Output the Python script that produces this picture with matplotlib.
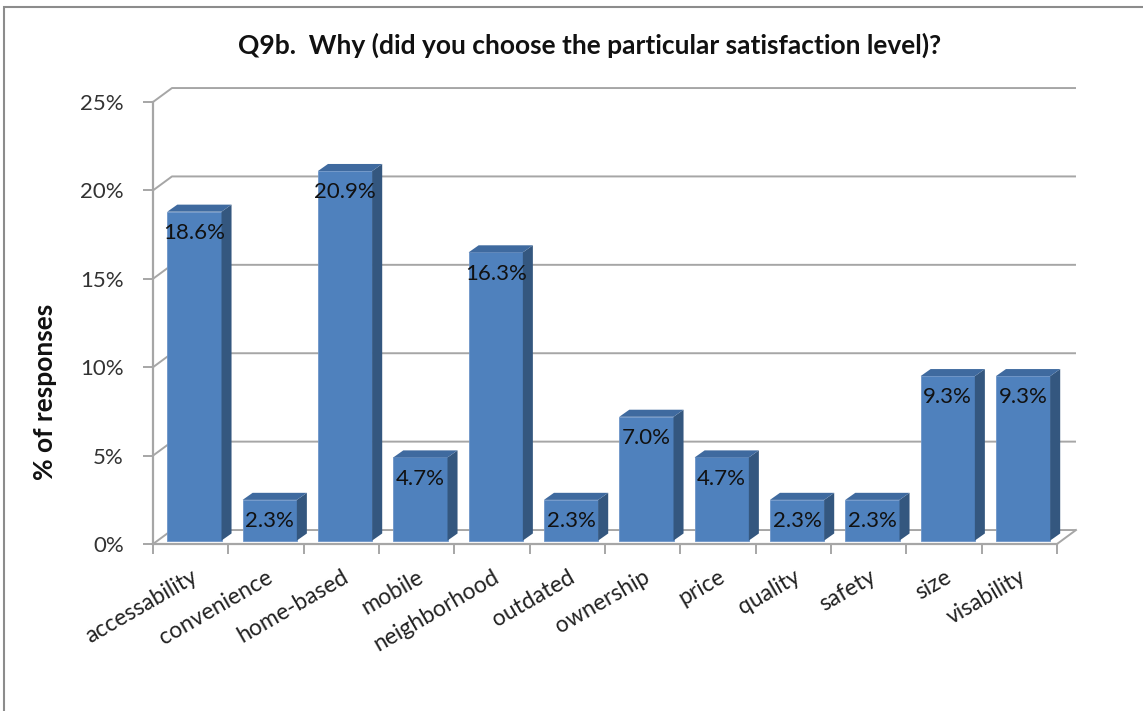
import numpy as np
import matplotlib
matplotlib.use('Agg')
import matplotlib.pyplot as plt
from matplotlib.patches import Rectangle

plt.rcParams['font.family'] = ['Lato', 'DejaVu Sans']

categories = ['accessability', 'convenience', 'home-based', 'mobile', 'neighborhood',
              'outdated', 'ownership', 'price', 'quality', 'safety', 'size', 'visability']
values = [18.6, 2.3, 20.9, 4.7, 16.3, 2.3, 7.0, 4.7, 2.3, 2.3, 9.3, 9.3]
yticks = [0, 5, 10, 15, 20, 25]
title = 'Q9b.  Why (did you choose the particular satisfaction level)?'
ylabel = '% of responses'

# 3d look (in data units)
DX, DY = 0.252, 0.79      # wall depth
BDX, BDY = 0.133, 0.40    # bar depth
BW = 0.72                 # bar width
ox, oy = (DX - BDX) / 2 - 0.01, (DY - BDY) / 2

front_c = '#4F81BD'
top_c = '#3F6A9F'
side_c = '#34577F'
grid_c = '#A6A6A6'

fig = plt.figure(figsize=(11.43, 7.11), dpi=100)
ax = fig.add_axes([153 / 1143, 1 - 544 / 711, 904 / 1143, 442 / 711])
n = len(categories)
ax.set_xlim(0, n)
ax.set_ylim(0, 25)

# walls / gridlines
for y in yticks:
    ax.plot([0, DX, n + DX], [y, y + DY, y + DY], color=grid_c, lw=1.4,
            clip_on=False, zorder=1, solid_capstyle='butt')
ax.plot([n, n + DX], [0, DY], color=grid_c, lw=1.4, clip_on=False, zorder=1)

# bars
for i, v in enumerate(values):
    x0 = i + 0.5 - BW / 2 + ox
    x1 = x0 + BW
    y0 = oy
    y1 = oy + v
    ax.fill([x0, x1, x1, x0], [y0, y0, y1, y1], color=front_c, zorder=3,
            clip_on=False, ec='#6D95C8', lw=0.6)
    ax.fill([x1, x1 + BDX, x1 + BDX, x1], [y0, y0 + BDY, y1 + BDY, y1],
            color=side_c, zorder=3, clip_on=False, lw=0)
    ax.fill([x0, x1, x1 + BDX, x0 + BDX], [y1, y1, y1 + BDY, y1 + BDY],
            color=top_c, zorder=3, clip_on=False, lw=0)
    ax.text((x0 + x1) / 2, y1 - 1.2, f'{v:.1f}%', ha='center', va='center',
            fontsize=16, color='#111111', zorder=4)

for s in ['top', 'right']:
    ax.spines[s].set_visible(False)
for s in ['left', 'bottom']:
    ax.spines[s].set_color(grid_c)
    ax.spines[s].set_linewidth(1.6)
    ax.spines[s].set_zorder(2)

ax.set_yticks(yticks)
ax.set_yticklabels([f'{t}%' for t in yticks])
ax.tick_params(axis='y', length=7, width=1.4, color=grid_c, pad=14,
               labelsize=16, labelcolor='#333333')

ax.set_xticks(np.arange(n) + 0.5)
ax.set_xticklabels(categories, rotation=30, ha='right', rotation_mode='anchor')
ax.set_xticks(np.arange(n + 1), minor=True)
ax.tick_params(axis='x', which='major', length=0, pad=16, labelsize=16.5,
               labelcolor='#222222')
ax.tick_params(axis='x', which='minor', length=7, width=1.4, color=grid_c)

fig.text(0.516, 1 - 45 / 711, title, ha='center', va='center',
         fontsize=19, fontweight='bold', color='#111111')
fig.text(0.039, 1 - 392 / 711, ylabel, ha='center', va='center', rotation=90,
         fontsize=19, fontweight='bold', color='#111111')

fig.patches.append(Rectangle((4 / 1143, -0.1), 2, 1.1 - 7 / 711, fill=False,
                             ec='#8C8C8C', lw=1.5, transform=fig.transFigure))

fig.savefig('out.png', dpi=100, facecolor='white')
